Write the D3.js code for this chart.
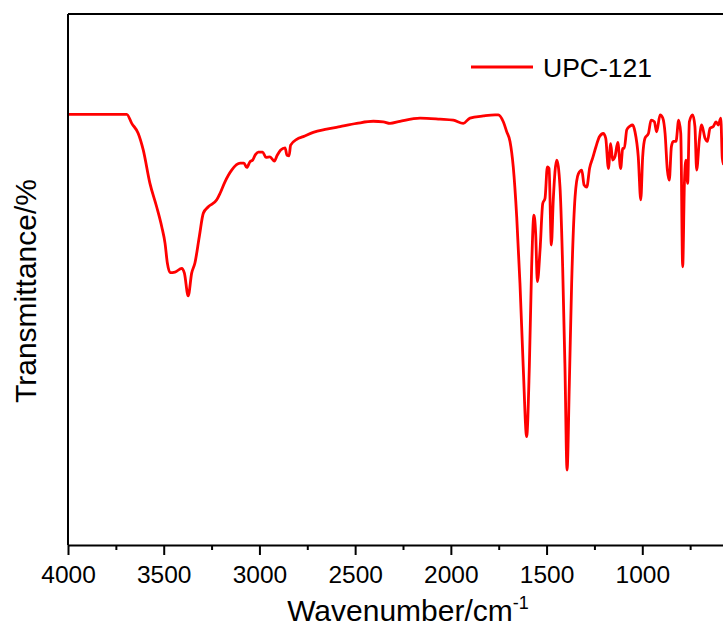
<!DOCTYPE html>
<html>
<head>
<meta charset="utf-8">
<script src="https://cdn.jsdelivr.net/npm/d3@7"></script>
<style>
  html, body { margin: 0; padding: 0; background: #fff; }
  svg { display: block; font-family: "Liberation Sans", Arial, sans-serif; }
  .axis path, .axis line { stroke: #000; stroke-width: 2; }
</style>
</head>
<body>
<svg width="723" height="630"></svg>
<script>
// FTIR spectrum of UPC-121
var wavenumber = [4000, 3833, 3693, 3667, 3633, 3607, 3572, 3537, 3510, 3493, 3481, 3467, 3441, 3406, 3392, 3372,
  3354, 3337, 3314, 3293, 3267, 3223, 3206, 3180, 3145, 3101, 3081, 3066, 3049, 3035, 3023, 3006, 2983, 2966,
  2945, 2922, 2907, 2889, 2866, 2856, 2845, 2837, 2805, 2771, 2719, 2649, 2579, 2492, 2405, 2353, 2318, 2266,
  2161, 2057, 1987, 1935, 1900, 1830, 1769, 1752, 1726, 1708, 1691, 1674, 1656, 1639, 1622, 1604, 1590, 1578,
  1566, 1557, 1548, 1534, 1520, 1508, 1496, 1487, 1475, 1465, 1447, 1430, 1416, 1404, 1393, 1381, 1369, 1351,
  1334, 1316, 1304, 1290, 1275, 1259, 1242, 1224, 1204, 1191, 1177, 1165, 1155, 1143, 1128, 1113, 1102, 1094,
  1081, 1064, 1050, 1038, 1021, 1008, 998, 986, 968, 954, 937, 925, 907, 893, 881, 869, 859, 848, 838, 824,
  810, 799, 789, 780, 772, 763, 754, 737, 725, 716, 702, 690, 672, 660, 646, 629, 615, 603, 590, 582, 575];

var transmittance = [81.1, 81.1, 81.1, 79.4, 77.5, 74.4, 68.1, 63.7, 59.9, 56.8, 53.1, 51.3, 51.4, 52.1, 51.2, 46.9,
  51.2, 53.1, 58.1, 62.5, 63.7, 65.0, 66.2, 68.4, 70.6, 71.9, 71.9, 71.1, 72.2, 72.5, 73.4, 74.0, 74.0, 73.0,
  73.1, 72.3, 73.4, 74.4, 74.8, 73.4, 73.3, 75.3, 76.4, 76.9, 77.7, 78.3, 78.8, 79.4, 79.8, 79.7, 79.4, 79.8,
  80.4, 80.2, 80.0, 79.4, 80.4, 80.8, 81.0, 81.0, 79.7, 77.8, 76.0, 71.2, 61.8, 49.3, 33.6, 20.4, 33.6, 52.4,
  62.1, 58.7, 49.6, 55.6, 64.3, 65.3, 71.2, 70.9, 56.5, 65.0, 72.5, 67.5, 52.4, 33.6, 14.1, 30.5, 49.3, 65.6,
  69.9, 70.6, 67.8, 67.4, 71.0, 72.9, 75.0, 76.9, 77.5, 76.6, 70.9, 75.6, 72.5, 73.1, 75.8, 70.9, 74.7, 74.7,
  78.2, 78.9, 79.1, 77.8, 73.1, 65.0, 73.1, 76.6, 77.5, 80.0, 79.7, 77.8, 81.0, 80.4, 77.5, 70.6, 68.7, 75.0, 76.0, 76.0,
  80.0, 77.5, 52.4, 68.1, 72.5, 68.1, 79.7, 81.0, 78.8, 70.6, 76.3, 79.1, 76.6, 76.0, 78.5, 78.8, 79.7, 79.1, 80.4, 72.8, 71.6];

// the 500 end of the axis falls outside the picture, so it is left out
var majorTicks = [4000, 3500, 3000, 2500, 2000, 1500, 1000];
var minorTicks = [3750, 3250, 2750, 2250, 1750, 1250, 750];
var seriesName = "UPC-121";

var svg = d3.select("svg");
var margin = {top: 14, left: 68, bottom: 85},
    plotRight = 738,
    plotBottom = 630 - margin.bottom;

var x = d3.scaleLinear().domain([4000, 500]).range([margin.left, plotRight]);
var y = d3.scaleLinear().domain([0, 100]).range([plotBottom, margin.top]);

var data = wavenumber.map(function(w, i) { return {w: w, t: transmittance[i]}; });

// spectrum line
var line = d3.line()
  .x(d => x(d.w))
  .y(d => y(d.t))
  .curve(d3.curveMonotoneX);

svg.append("path")
  .datum(data)
  .attr("fill", "none")
  .attr("stroke", "#ff0000")
  .attr("stroke-width", 2.8)
  .attr("stroke-linejoin", "round")
  .attr("d", line);

// frame: top and left lines
svg.append("line")
  .attr("x1", margin.left).attr("x2", plotRight)
  .attr("y1", margin.top).attr("y2", margin.top)
  .attr("stroke", "#000").attr("stroke-width", 2);
svg.append("line")
  .attr("x1", margin.left).attr("x2", margin.left)
  .attr("y1", margin.top).attr("y2", plotBottom)
  .attr("stroke", "#000").attr("stroke-width", 2);

// bottom axis, minor ticks first
svg.append("g")
  .attr("class", "axis")
  .attr("transform", "translate(0," + plotBottom + ")")
  .call(d3.axisBottom(x).tickValues(minorTicks).tickSize(5).tickFormat(""))
  .call(g => g.select(".domain").remove());

var xAxis = svg.append("g")
  .attr("class", "axis")
  .attr("transform", "translate(0," + plotBottom + ")")
  .call(d3.axisBottom(x).tickValues(majorTicks).tickSize(10).tickSizeOuter(0).tickFormat(d3.format("d")));

xAxis.selectAll("text")
  .attr("y", 38)
  .attr("dy", 0)
  .attr("fill", "#000")
  .style("font-size", "24.5px")
  .style("font-family", "'Liberation Sans', Arial, sans-serif");

// axis titles
var xTitle = svg.append("text")
  .attr("x", 408)
  .attr("y", 621)
  .attr("text-anchor", "middle")
  .style("font-size", "30px")
  .text("Wavenumber/cm");
xTitle.append("tspan")
  .attr("dy", -12)
  .style("font-size", "18px")
  .text("-1");

svg.append("text")
  .attr("transform", "translate(36,291) rotate(-90)")
  .attr("text-anchor", "middle")
  .style("font-size", "30px")
  .text("Transmittance/%");

// legend
svg.append("line")
  .attr("x1", 471).attr("x2", 533)
  .attr("y1", 67).attr("y2", 67)
  .attr("stroke", "#ff0000")
  .attr("stroke-width", 2.8);
svg.append("text")
  .attr("x", 543)
  .attr("y", 77)
  .style("font-size", "26.5px")
  .text(seriesName);
</script>
</body>
</html>
